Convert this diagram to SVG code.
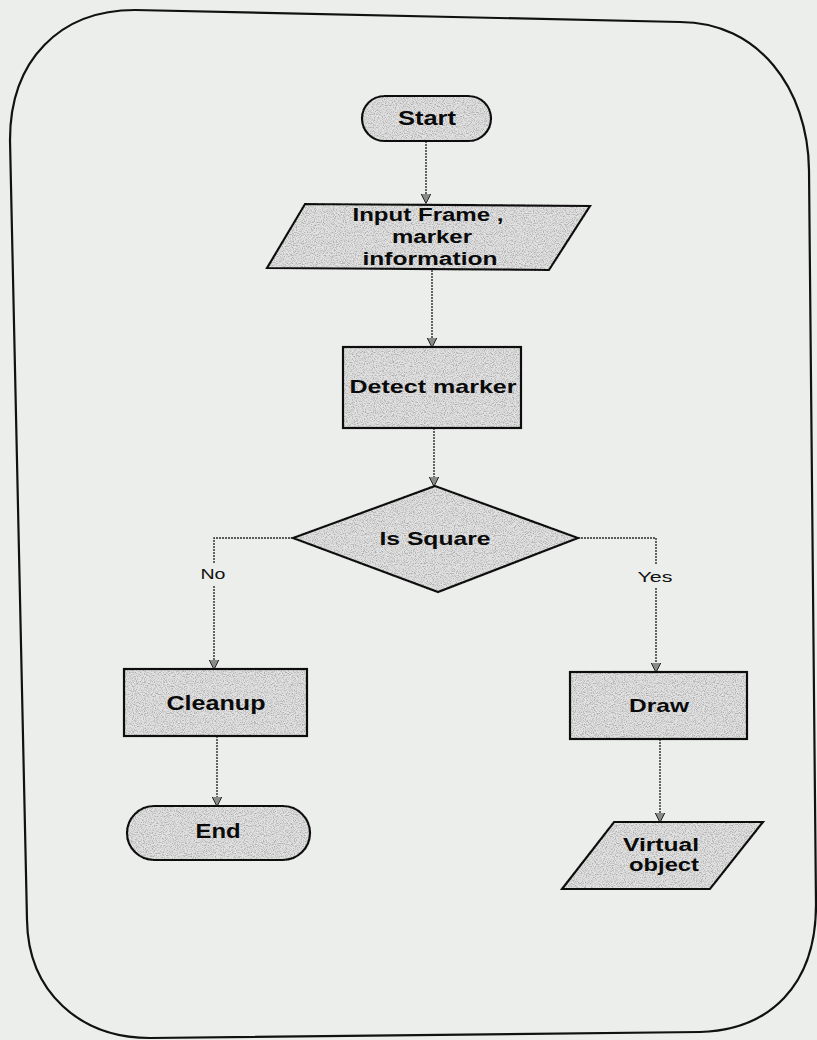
<svg xmlns="http://www.w3.org/2000/svg" width="817" height="1040" viewBox="0 0 817 1040">
  <style>
    .box { fill: #e2e2e2; stroke: #111; stroke-width: 2.2; filter: url(#grain); }
    .lbl { font-family: "Liberation Sans", Arial, sans-serif; font-weight: bold; fill: #0a0a0a; text-anchor: middle; }
    .tag { font-family: "Liberation Sans", Arial, sans-serif; font-size: 15px; fill: #111; text-anchor: middle; }
    .flow { fill: none; stroke: #2a2a2a; stroke-width: 1.4; stroke-dasharray: 2 1; }
  </style>
  <defs>
    <!-- speckled grey fill for the flowchart shapes (darkens only, outlines stay black) -->
    <filter id="grain" x="-5%" y="-5%" width="110%" height="110%">
      <feTurbulence type="fractalNoise" baseFrequency="0.9" numOctaves="2" seed="7" result="noise"/>
      <feColorMatrix in="noise" type="matrix" values="0 0 0 0 0.55  0 0 0 0 0.55  0 0 0 0 0.55  -3 0 0 0 1.75" result="dots"/>
      <feComposite in="dots" in2="SourceAlpha" operator="in" result="speck"/>
      <feBlend in="speck" in2="SourceGraphic" mode="multiply"/>
    </filter>
    <marker id="arrow" viewBox="0 0 10 10" refX="9.5" refY="5" markerWidth="10" markerHeight="11" markerUnits="userSpaceOnUse" orient="auto">
      <path d="M0,0 L10,5 L0,10 z" fill="#8a8a8a" stroke="#222" stroke-width="1"/>
    </marker>
  </defs>

  <!-- page -->
  <rect width="817" height="1040" fill="#eceeec"/>

  <!-- outer rounded frame -->
  <path d="M10,140 C10,60 60,10 135,10 L680,22 C758,22 808,88 809,170 L816,905 C816,985 770,1030 700,1032 L150,1038 C80,1038 28,992 27,920 Z" fill="none" stroke="#111" stroke-width="2.2"/>

  <!-- connectors -->
  <g id="connectors">
    <path class="flow" d="M426,141 L426,203" marker-end="url(#arrow)"/>
    <path class="flow" d="M432,270 L432,347" marker-end="url(#arrow)"/>
    <path class="flow" d="M434,428 L434,486" marker-end="url(#arrow)"/>
    <path class="flow" d="M293,538 L214,538 L214,563"/>
    <path class="flow" d="M214,586 L214,669" marker-end="url(#arrow)"/>
    <path class="flow" d="M578,538 L656,538 L656,565"/>
    <path class="flow" d="M656,588 L656,672" marker-end="url(#arrow)"/>
    <path class="flow" d="M217,736 L217,806" marker-end="url(#arrow)"/>
    <path class="flow" d="M660,739 L660,822" marker-end="url(#arrow)"/>
    <text class="tag" x="213" y="579" textLength="25" lengthAdjust="spacingAndGlyphs">No</text>
    <text class="tag" x="655" y="582" textLength="35" lengthAdjust="spacingAndGlyphs">Yes</text>
  </g>

  <g id="start">
    <rect class="box" x="362" y="96" width="129" height="45" rx="22.5" ry="22.5"/>
    <text class="lbl" x="427" y="125" font-size="20" textLength="58" lengthAdjust="spacingAndGlyphs">Start</text>
  </g>

  <g id="input-frame">
    <polygon class="box" points="305,204 590,206 549,270 267,268"/>
    <text class="lbl" x="428" y="221" font-size="18" textLength="151" lengthAdjust="spacingAndGlyphs">Input Frame ,</text>
    <text class="lbl" x="432" y="243" font-size="18" textLength="80" lengthAdjust="spacingAndGlyphs">marker</text>
    <text class="lbl" x="430" y="265" font-size="18" textLength="135" lengthAdjust="spacingAndGlyphs">information</text>
  </g>

  <g id="detect-marker">
    <rect class="box" x="343" y="347" width="178" height="81"/>
    <text class="lbl" x="433" y="393" font-size="19" textLength="167" lengthAdjust="spacingAndGlyphs">Detect marker</text>
  </g>

  <g id="is-square">
    <polygon class="box" points="435,486 578,538 438,592 293,538"/>
    <text class="lbl" x="435" y="545" font-size="19" textLength="111" lengthAdjust="spacingAndGlyphs">Is Square</text>
  </g>

  <g id="cleanup">
    <rect class="box" x="124" y="669" width="183" height="67"/>
    <text class="lbl" x="216" y="710" font-size="20" textLength="99" lengthAdjust="spacingAndGlyphs">Cleanup</text>
  </g>

  <g id="end">
    <rect class="box" x="127" y="806" width="183" height="54" rx="27" ry="27"/>
    <text class="lbl" x="218" y="838" font-size="20" textLength="45" lengthAdjust="spacingAndGlyphs">End</text>
  </g>

  <g id="draw">
    <rect class="box" x="570" y="672" width="177" height="67"/>
    <text class="lbl" x="659" y="712" font-size="19" textLength="60" lengthAdjust="spacingAndGlyphs">Draw</text>
  </g>

  <g id="virtual-object">
    <polygon class="box" points="614,822 763,822 710,889 562,889"/>
    <text class="lbl" x="661" y="851" font-size="18" textLength="76" lengthAdjust="spacingAndGlyphs">Virtual</text>
    <text class="lbl" x="664" y="871" font-size="18" textLength="70" lengthAdjust="spacingAndGlyphs">object</text>
  </g>
</svg>
